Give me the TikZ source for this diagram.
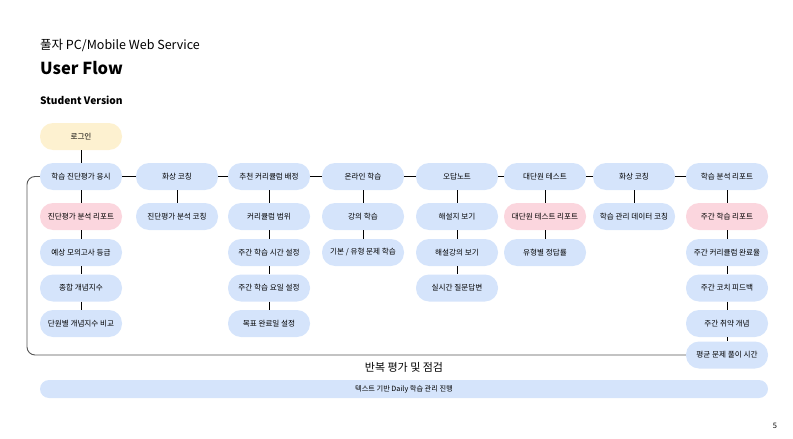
\documentclass[tikz,border=0pt]{standalone}
\usepackage{fontspec}
\setmainfont{Noto Sans CJK KR}
\usepackage{tikz}
\usetikzlibrary{positioning}
\usepackage{xcolor}
\definecolor{flowblue}{RGB}{213,228,251}
\definecolor{flowpink}{RGB}{251,214,222}
\definecolor{flowyellow}{RGB}{253,241,208}
\definecolor{loopgray}{RGB}{85,85,85}

\begin{document}
\begin{tikzpicture}[x=1pt,y=-1pt,
    pill/.style={fill=flowblue,rounded corners=13pt,minimum width=82pt,minimum height=27pt,
      inner sep=0pt,font=\fontsize{7.6}{9}\selectfont},
    report/.style={pill,fill=flowpink},
    start/.style={pill,fill=flowyellow},
    link/.style={line width=0.8pt}]
    \useasboundingbox (0,0) rectangle (793,439);
    % header
    \node[anchor=base west,inner sep=0pt,font=\fontsize{12.5}{15}\selectfont] (subtitle) at (40,49) {풀자 PC/Mobile Web Service};
    \node[anchor=base west,inner sep=0pt,font=\fontsize{16.5}{20}\bfseries] (title) at (40,74) {User Flow};
    \node[anchor=base west,inner sep=0pt,font=\fontsize{10.2}{12}\bfseries] (version) at (40,104) {Student Version};
    % login
    \node[start] (login) at (81,136.5) {로그인};
    % main row
    \node[pill] (diag) at (81,176.5) {학습 진단평가 응시};
    \node[pill] (coach1) at (177,176.5) {화상 코칭};
    \node[pill] (curri) at (269,176.5) {추천 커리큘럼 배정};
    \node[pill] (online) at (363,176.5) {온라인 학습};
    \node[pill] (wrong) at (457,176.5) {오답노트};
    \node[pill] (unit) at (545,176.5) {대단원 테스트};
    \node[pill] (coach2) at (634,176.5) {화상 코칭};
    \node[pill] (analysis) at (727,176.5) {학습 분석 리포트};
    % column 1
    \node[report] (diagrep) at (81,216.5) {진단평가 분석 리포트};
    \node[pill] (grade) at (81,252.5) {예상 모의고사 등급};
    \node[pill] (concept) at (81,288) {종합 개념지수};
    \node[pill] (unitcmp) at (81,323.5) {단원별 개념지수 비교};
    % column 2
    \node[pill] (diagcoach) at (177,216.5) {진단평가 분석 코칭};
    % column 3
    \node[pill] (range) at (269,216.5) {커리큘럼 범위};
    \node[pill] (hours) at (269,252.5) {주간 학습 시간 설정};
    \node[pill] (days) at (269,288) {주간 학습 요일 설정};
    \node[pill] (goal) at (269,323.5) {목표 완료일 설정};
    % column 4
    \node[pill] (lecture) at (363,216.5) {강의 학습};
    \node[pill] (basic) at (363,252.5) {기본 / 유형 문제 학습};
    % column 5
    \node[pill] (sheet) at (457,216.5) {해설지 보기};
    \node[pill] (video) at (457,252.5) {해설강의 보기};
    \node[pill] (qna) at (457,288) {실시간 질문답변};
    % column 6
    \node[report] (unitrep) at (545,216.5) {대단원 테스트 리포트};
    \node[pill] (rate) at (545,252.5) {유형별 정답률};
    % column 7
    \node[pill] (datacoach) at (634,216.5) {학습 관리 데이터 코칭};
    % column 8
    \node[report] (weekrep) at (727,216.5) {주간 학습 리포트};
    \node[pill] (done) at (727,252.5) {주간 커리큘럼 완료율};
    \node[pill] (feedback) at (727,288) {주간 코치 피드백};
    \node[pill] (weak) at (727,323.5) {주간 취약 개념};
    \node[pill] (avgtime) at (727,355) {평균 문제 풀이 시간};
    % connectors
    \draw[link] (login) -- (diag);
    \draw[link] (diag) -- (coach1) -- (curri) -- (online) -- (wrong) -- (unit) -- (coach2) -- (analysis);
    \draw[link] (diag) -- (diagrep) -- (grade) -- (concept) -- (unitcmp);
    \draw[link] (coach1) -- (diagcoach);
    \draw[link] (curri) -- (range) -- (hours) -- (days) -- (goal);
    \draw[link] (online) -- (lecture) -- (basic);
    \draw[link] (wrong) -- (sheet) -- (video) -- (qna);
    \draw[link] (unit) -- (unitrep) -- (rate);
    \draw[link] (coach2) -- (datacoach);
    \draw[link] (analysis) -- (weekrep) -- (done) -- (feedback) -- (weak) -- (avgtime);
    % repeat loop
    \draw[loopgray,line width=0.9pt,rounded corners=8pt] (avgtime.west) -- (27,355) -- (27,176.5) -- (diag.west);
    \node[font=\fontsize{11}{13}\selectfont] (looplabel) at (404,367) {반복 평가 및 점검};
    % daily bar
    \node[pill,minimum width=728pt,minimum height=18pt,rounded corners=9pt,font=\fontsize{7.2}{9}\selectfont] (daily) at (404,389) {텍스트 기반 Daily 학습 관리 진행};
    \node[font=\fontsize{7.5}{9}\selectfont] (page) at (775,426) {5};
\end{tikzpicture}
\end{document}
